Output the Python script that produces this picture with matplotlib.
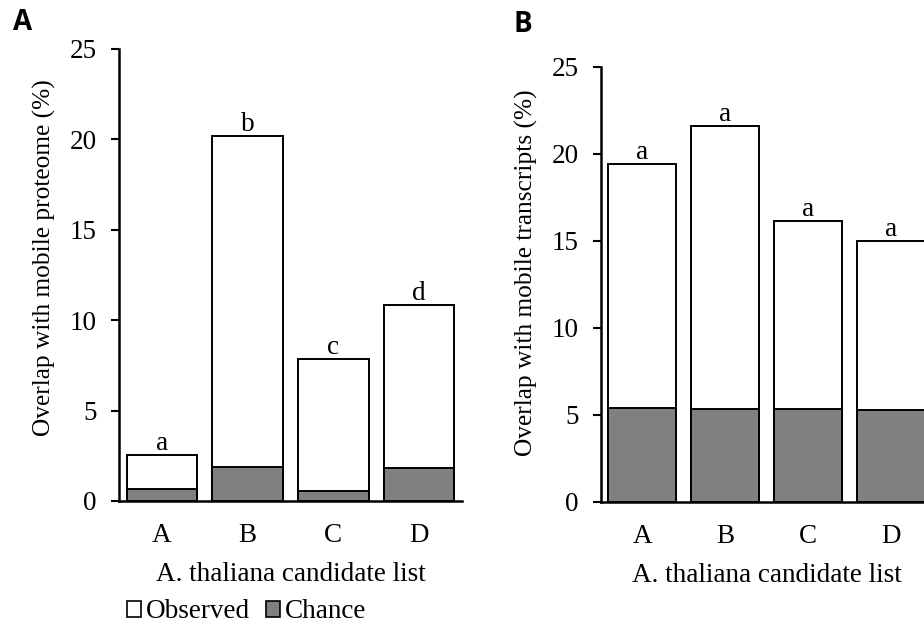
import matplotlib
matplotlib.use("Agg")
import matplotlib.pyplot as plt
from matplotlib.patches import Patch

categories = ["A", "B", "C", "D"]
observed_A = [2.54, 20.17, 7.84, 10.82]
chance_A = [0.66, 1.90, 0.54, 1.84]
letters_A = ["a", "b", "c", "d"]
observed_B = [19.41, 21.59, 16.11, 14.98]
chance_B = [5.38, 5.31, 5.33, 5.29]
letters_B = ["a", "a", "a", "a"]
yticks = [0, 5, 10, 15, 20, 25]

SERIF = "Liberation Serif"
FS = 19.5
FSY = 18.3

fig = plt.figure(figsize=(9.24, 6.26), dpi=100)
axA = fig.add_axes([119/924, 1-501/626, 343/924, 452/626])
axB = fig.add_axes([601/924, 1-501.7/626, 331/924, 435/626])

def draw(ax, obs, ch, letters, ylabel, ylab_y):
    x = range(len(categories))
    ax.bar(x, obs, width=0.82, color="white", edgecolor="black", linewidth=1.4, zorder=2)
    ax.bar(x, ch, width=0.82, color="#808080", edgecolor="black", linewidth=1.4, zorder=3)
    for i, (v, l) in enumerate(zip(obs, letters)):
        ax.text(i, v - 0.05, l, ha="center", va="bottom", fontsize=FS, family=SERIF)
    ax.set_xlim(-0.5, 3.5)
    ax.set_ylim(0, 25)
    ax.set_yticks(yticks)
    ax.set_yticklabels([str(t) for t in yticks], fontsize=FS, family=SERIF)
    ax.set_xticks(list(x))
    ax.set_xticklabels(categories, fontsize=FS, family=SERIF)
    ax.tick_params(axis="x", length=0, pad=16)
    ax.tick_params(axis="y", length=6, width=1.5, pad=10, direction="out")
    for s in ["top", "right"]:
        ax.spines[s].set_visible(False)
    for s in ["left", "bottom"]:
        ax.spines[s].set_linewidth(1.8)
    ax.set_xlabel("A. thaliana candidate list", fontsize=FS, family=SERIF, labelpad=10)
    ax.set_ylabel(ylabel, fontsize=FSY, family=SERIF, labelpad=10)
    ax.yaxis.label.set_y(ylab_y)

draw(axA, observed_A, chance_A, letters_A, "Overlap with mobile proteome (%)", 0.539)
draw(axB, observed_B, chance_B, letters_B, "Overlap with mobile transcripts (%)", 0.527)

handles = [Patch(facecolor="white", edgecolor="black", linewidth=1.2, label="Observed"),
           Patch(facecolor="#808080", edgecolor="black", linewidth=1.2, label="Chance")]
fig.legend(handles=handles, loc="center left", bbox_to_anchor=(127/924, 1-612/626),
           ncol=2, frameon=False, prop={"family": SERIF, "size": FS},
           handlelength=0.5, handleheight=0.5, handletextpad=0.2, columnspacing=0.6,
           borderaxespad=0, borderpad=0)

fig.text(13/924, 1-22/626, "A", fontsize=20, fontweight="bold", family="Open Sans", va="center")
fig.text(514/924, 1-24/626, "B", fontsize=20, fontweight="bold", family="Open Sans", va="center")

fig.savefig("out.png", dpi=100)
